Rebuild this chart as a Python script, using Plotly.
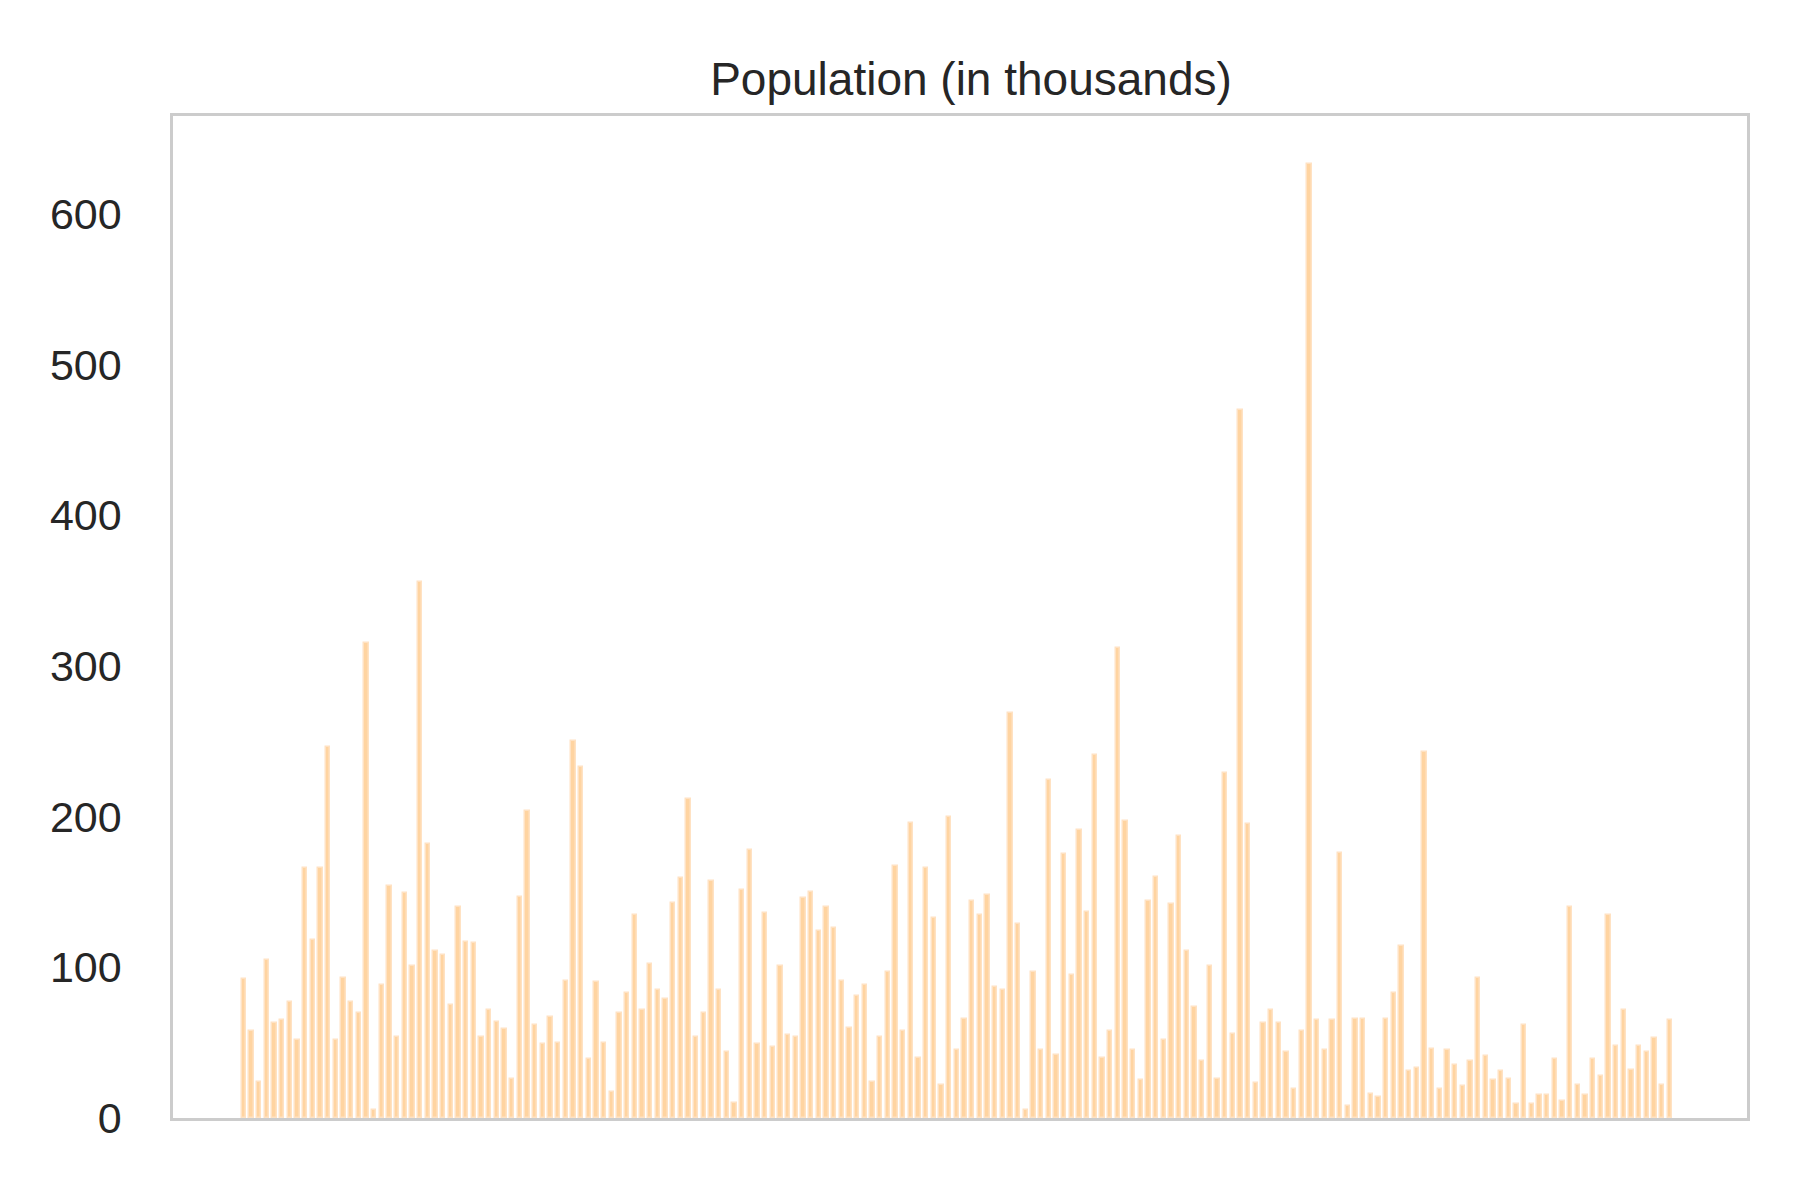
import plotly.graph_objects as go

population = [92, 58, 24, 105, 63, 65, 77, 52, 166, 118, 166, 246, 52, 93, 77, 70, 315, 5, 88, 154,
              54, 149, 101, 356, 182, 111, 108, 75, 140, 117, 116, 54, 72, 64, 59, 26, 147, 204, 62, 49,
              67, 50, 91, 250, 233, 39, 90, 50, 17, 70, 83, 135, 72, 102, 85, 79, 143, 159, 212, 54,
              70, 157, 85, 44, 10, 151, 178, 49, 136, 47, 101, 55, 54, 146, 150, 124, 140, 126, 91, 60,
              81, 88, 24, 54, 97, 167, 58, 196, 40, 166, 133, 22, 200, 45, 66, 144, 135, 148, 87, 85,
              269, 129, 5, 97, 45, 224, 42, 175, 95, 191, 137, 241, 40, 58, 312, 197, 45, 25, 144, 160,
              52, 142, 187, 111, 74, 38, 101, 26, 229, 56, 470, 195, 23, 63, 72, 63, 44, 19, 58, 633,
              65, 45, 65, 176, 8, 66, 66, 16, 14, 66, 83, 114, 31, 33, 243, 46, 19, 45, 35, 21,
              38, 93, 41, 25, 31, 26, 9, 62, 9, 15, 15, 39, 11, 140, 22, 15, 39, 28, 135, 48,
              72, 32, 48, 44, 53, 22, 65]
y_ticks = [0, 100, 200, 300, 400, 500, 600]

idx = list(range(len(population)))
n = len(population) - 1
span = n / 0.906
fig = go.Figure(go.Bar(x=idx, y=population, width=0.55,
                       marker=dict(color="rgba(255,205,145,0.85)",
                                   line=dict(color="rgba(255,226,195,1)", width=1.5))))
fig.update_layout(
    width=1800, height=1200, plot_bgcolor="white", paper_bgcolor="white",
    margin=dict(l=165, r=61, t=108, b=90),
    title=dict(text="Population (in thousands)", x=0.535, xanchor="center", y=0.941, yanchor="middle",
               font=dict(family="Liberation Sans, Arial", size=46, color="#262626")),
    showlegend=False, bargap=0,
)
fig.update_xaxes(range=[-0.045 * span, n + 0.049 * span], showticklabels=False, ticks="",
                 showgrid=False, zeroline=False, showline=True, linecolor="#cccccc", linewidth=2.5, mirror=True)
fig.update_yaxes(range=[0, 665], tickvals=y_ticks, showgrid=False, zeroline=False,
                 showline=True, linecolor="#cccccc", linewidth=2.5, mirror=True, ticks="",
                 tickfont=dict(family="Liberation Sans, Arial", size=43, color="#262626"), ticklabelstandoff=40)
fig.write_html("out.html")
